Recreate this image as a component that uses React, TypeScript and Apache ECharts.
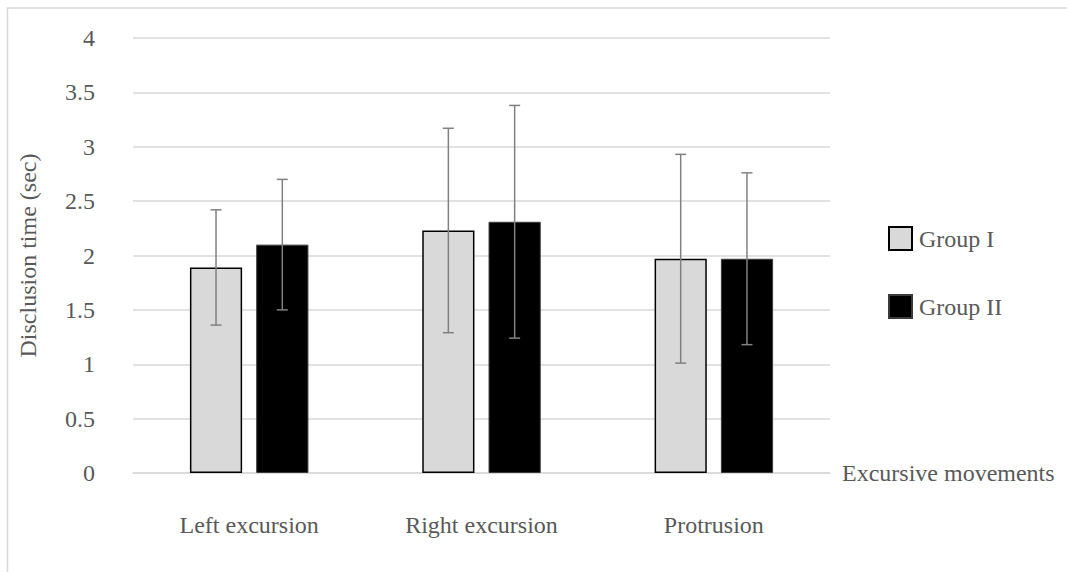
import React, { useEffect, useRef } from "react";
import * as echarts from "echarts";

const categories = ["Left excursion", "Right excursion", "Protrusion"];
const groupIMeans = [1.89, 2.23, 1.97];
const groupIErrors = [0.53, 0.94, 0.96];
const groupIIMeans = [2.1, 2.31, 1.97];
const groupIIErrors = [0.6, 1.07, 0.79];
const seriesNames = ["Group I", "Group II"];

const FONT = "Liberation Serif, Times New Roman, serif";
const TEXT = "#595959";
const GRID = "#d9d9d9";
const CAT_GAP = 0.49;
const BAR_GAP = 0.27;

function errorSeries(name: string, means: number[], errs: number[], side: number) {
  return {
    type: "custom",
    name: name + " error",
    z: 5,
    silent: true,
    encode: { x: 0, y: [1, 2] },
    data: means.map((m, i) => [i, m - errs[i], m + errs[i]]),
    renderItem: (params: any, api: any) => {
      const idx = api.value(0);
      const band = api.size([1, 0])[0];
      const barW = (band * (1 - CAT_GAP)) / (2 + BAR_GAP);
      const off = (side * barW * (1 + BAR_GAP)) / 2;
      const lo = api.coord([idx, api.value(1)]);
      const hi = api.coord([idx, api.value(2)]);
      const x = lo[0] + off;
      const cap = 5.5;
      const style = { stroke: "#808080", lineWidth: 1.5, fill: "none" };
      return {
        type: "group",
        children: [
          { type: "line", shape: { x1: x, y1: lo[1], x2: x, y2: hi[1] }, style },
          { type: "line", shape: { x1: x - cap, y1: lo[1], x2: x + cap, y2: lo[1] }, style },
          { type: "line", shape: { x1: x - cap, y1: hi[1], x2: x + cap, y2: hi[1] }, style },
        ],
      };
    },
  };
}

export default function App() {
  const ref = useRef<HTMLDivElement>(null);
  useEffect(() => {
    if (!ref.current) return;
    const chart = echarts.init(ref.current, null, { renderer: "svg" });
    chart.setOption({
      animation: false,
      backgroundColor: "#ffffff",
      textStyle: { fontFamily: FONT },
      graphic: [
        {
          type: "rect",
          shape: { x: 7.5, y: 8, width: 1200, height: 700 },
          style: { fill: "none", stroke: "#d9d9d9", lineWidth: 1.5 },
          silent: true,
          z: -1,
        },
      ],
      grid: { left: 133, right: 237, top: 38, bottom: 99 },
      legend: {
        orient: "vertical",
        left: 883,
        top: 221,
        itemWidth: 23,
        itemHeight: 23,
        itemGap: 43,
        icon: "rect",
        data: seriesNames,
        textStyle: { fontFamily: FONT, fontSize: 24, color: TEXT, padding: [0, 0, 0, 2] },
      },
      xAxis: {
        type: "category",
        data: categories,
        name: "Excursive movements",
        nameLocation: "end",
        nameGap: 12,
        nameTextStyle: { fontFamily: FONT, fontSize: 24, color: TEXT, align: "left", verticalAlign: "middle", padding: [0, 0, 14, 0] },
        axisLine: { lineStyle: { color: GRID, width: 1.5 } },
        axisTick: { show: false },
        axisLabel: { fontFamily: FONT, fontSize: 24, color: TEXT, margin: 40 },
      },
      yAxis: {
        type: "value",
        min: 0,
        max: 4,
        interval: 0.5,
        name: "Disclusion time (sec)",
        nameLocation: "middle",
        nameGap: 93,
        nameTextStyle: { fontFamily: FONT, fontSize: 24, color: TEXT },
        axisLine: { show: false },
        axisTick: { show: false },
        axisLabel: { fontFamily: FONT, fontSize: 24, color: TEXT, margin: 38 },
        splitLine: { lineStyle: { color: GRID, width: 1.5 } },
      },
      series: [
        {
          type: "bar",
          name: seriesNames[0],
          data: groupIMeans,
          barGap: BAR_GAP * 100 + "%",
          barCategoryGap: CAT_GAP * 100 + "%",
          itemStyle: { color: "#d9d9d9", borderColor: "#000000", borderWidth: 1.5 },
        },
        {
          type: "bar",
          name: seriesNames[1],
          data: groupIIMeans,
          barGap: BAR_GAP * 100 + "%",
          barCategoryGap: CAT_GAP * 100 + "%",
          itemStyle: { color: "#000000", borderColor: "#3a3a3a", borderWidth: 1 },
        },
        errorSeries(seriesNames[0], groupIMeans, groupIErrors, -1),
        errorSeries(seriesNames[1], groupIIMeans, groupIIErrors, 1),
      ],
    });
    return () => chart.dispose();
  }, []);
  return (
    <div
      ref={ref}
      style={{ position: "fixed", left: 0, top: 0, width: 1067, height: 572 }}
    />
  );
}
